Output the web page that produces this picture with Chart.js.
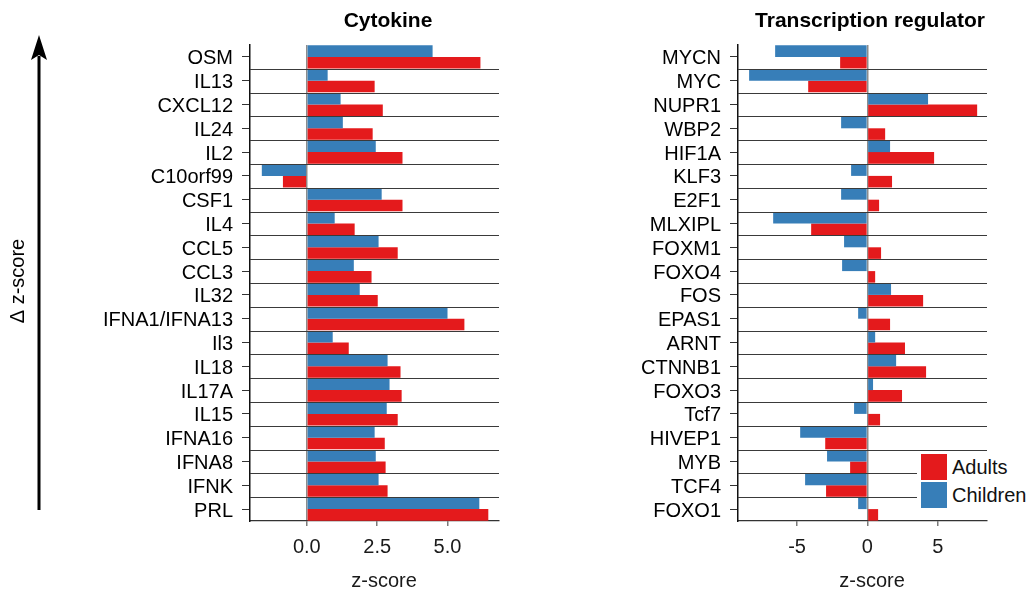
<!DOCTYPE html>
<html>
<head>
<meta charset="utf-8">
<script src="https://cdn.jsdelivr.net/npm/chart.js@4.4.1/dist/chart.umd.min.js"></script>
<style>
    html, body { margin: 0; padding: 0; background: #fff; }
    #wrap { position: relative; width: 1035px; height: 594px; overflow: hidden; }
    canvas { position: absolute; top: 0; }
    #cyto { left: 0; }
    #tf { left: 520px; }
    .legend {
        position: absolute; left: 917px; top: 451px; width: 118px; height: 60px;
        background: #fff; font: 20px "Liberation Sans", Arial, sans-serif; color: #111;
    }
    .legend div { position: absolute; left: 4px; height: 26px; line-height: 26px; padding-left: 31px; }
    .legend span { position: absolute; left: 0; top: 0; width: 26px; height: 26px; }
</style>
</head>
<body>
<div id="wrap">
    <canvas id="cyto" width="520" height="594"></canvas>
    <canvas id="tf" width="515" height="594"></canvas>
    <div class="legend">
        <div style="top:3px"><span style="background:#E41A1C"></span>Adults</div>
        <div style="top:31px"><span style="background:#377EB8"></span>Children</div>
    </div>
</div>
<script>
const cytoLabels = ["OSM", "IL13", "CXCL12", "IL24", "IL2", "C10orf99", "CSF1", "IL4", "CCL5", "CCL3",
    "IL32", "IFNA1/IFNA13", "Il3", "IL18", "IL17A", "IL15", "IFNA16", "IFNA8", "IFNK", "PRL"];
const cytoChildren = [4.47, 0.74, 1.2, 1.28, 2.45, -1.6, 2.66, 0.99, 2.55, 1.67,
    1.88, 5.0, 0.92, 2.87, 2.94, 2.84, 2.41, 2.45, 2.55, 6.13];
const cytoAdults = [6.17, 2.41, 2.7, 2.34, 3.4, -0.85, 3.4, 1.7, 3.23, 2.3,
    2.52, 5.6, 1.49, 3.33, 3.37, 3.23, 2.77, 2.8, 2.87, 6.45];
const cytoTicks = [0, 2.5, 5];

const tfLabels = ["MYCN", "MYC", "NUPR1", "WBP2", "HIF1A", "KLF3", "E2F1", "MLXIPL", "FOXM1", "FOXO4",
    "FOS", "EPAS1", "ARNT", "CTNNB1", "FOXO3", "Tcf7", "HIVEP1", "MYB", "TCF4", "FOXO1"];
const tfChildren = [-6.56, -8.41, 4.31, -1.87, 1.61, -1.16, -1.87, -6.7, -1.66, -1.8,
    1.68, -0.66, 0.55, 2.04, 0.4, -0.95, -4.78, -2.87, -4.43, -0.66];
const tfAdults = [-1.94, -4.21, 7.8, 1.26, 4.74, 1.75, 0.83, -4.0, 0.97, 0.55,
    3.96, 1.61, 2.67, 4.17, 2.46, 0.9, -3.0, -1.23, -2.94, 0.76];
const tfTicks = [-5, 0, 5];

const RED = "#E41A1C";
const BLUE = "#377EB8";
const FONT = '"Liberation Sans", Arial, sans-serif';

Chart.defaults.font.family = FONT;
Chart.defaults.color = "#111";

// lines between the categories
const rowLines = {
    id: "rowLines",
    afterDatasetsDraw(chart) {
        const y = chart.scales.y;
        const area = chart.chartArea;
        const ctx = chart.ctx;
        ctx.save();
        ctx.strokeStyle = "#3a3a3a";
        ctx.lineWidth = 1;
        for (let i = 0; i < y.ticks.length - 1; i++) {
            const py = Math.round((y.getPixelForTick(i) + y.getPixelForTick(i + 1)) / 2) + 0.5;
            ctx.beginPath();
            ctx.moveTo(area.left, py);
            ctx.lineTo(area.right, py);
            ctx.stroke();
        }
        ctx.restore();
    }
};

// panel title and x label
const panelText = {
    id: "panelText",
    afterDraw(chart, args, opts) {
        const ctx = chart.ctx;
        ctx.save();
        ctx.fillStyle = "#000";
        ctx.textAlign = "center";
        ctx.textBaseline = "alphabetic";
        ctx.font = "bold 21px " + FONT;
        ctx.fillText(opts.title, opts.titleX, 27);
        ctx.fillStyle = "#1a1a1a";
        ctx.font = "20px " + FONT;
        ctx.fillText("z-score", opts.labelX, 587);
        if (opts.arrow) {
            ctx.strokeStyle = "#000";
            ctx.fillStyle = "#000";
            ctx.lineWidth = 3;
            ctx.beginPath();
            ctx.moveTo(39, 510);
            ctx.lineTo(39, 56);
            ctx.stroke();
            ctx.beginPath();
            ctx.moveTo(39, 35);
            ctx.lineTo(31, 60);
            ctx.lineTo(39, 55);
            ctx.lineTo(47, 60);
            ctx.closePath();
            ctx.fill();
            ctx.translate(18, 281);
            ctx.rotate(-Math.PI / 2);
            ctx.textBaseline = "middle";
            ctx.fillText("\u0394 z-score", 0, 0);
        }
        ctx.restore();
    }
};

function makeChart(id, labels, children, adults, xMin, xMax, tickValues, tickFormat, yWidth, padRight, text) {
    return new Chart(document.getElementById(id), {
        type: "bar",
        data: {
            labels: labels,
            datasets: [
                { label: "Children", data: children, backgroundColor: BLUE },
                { label: "Adults", data: adults, backgroundColor: RED }
            ]
        },
        options: {
            indexAxis: "y",
            responsive: false,
            animation: false,
            devicePixelRatio: 1,
            categoryPercentage: 0.97,
            barPercentage: 1,
            borderWidth: 0,
            layout: { padding: { top: 45, right: padRight, bottom: 0, left: 0 } },
            plugins: {
                legend: { display: false },
                tooltip: { enabled: false },
                panelText: text
            },
            scales: {
                x: {
                    type: "linear",
                    min: xMin,
                    max: xMax,
                    afterBuildTicks(scale) {
                        scale.ticks = tickValues.map(v => ({ value: v }));
                    },
                    afterFit(scale) {
                        scale.height = 73;
                    },
                    ticks: {
                        autoSkip: false,
                        padding: 9,
                        color: "#1a1a1a",
                        font: { size: 20 },
                        callback: v => tickFormat(v)
                    },
                    grid: {
                        color: ctx => (ctx.tick && ctx.tick.value === 0 ? "#8c8c8c" : "rgba(0,0,0,0)"),
                        lineWidth: 1.5,
                        tickColor: "#7a7a7a",
                        tickLength: 5
                    },
                    border: { display: true, color: "#333", width: 1.3 }
                },
                y: {
                    afterFit(scale) {
                        scale.width = yWidth;
                    },
                    ticks: {
                        autoSkip: false,
                        padding: 9,
                        labelOffset: 2,
                        color: "#000",
                        font: { size: 20 }
                    },
                    grid: {
                        offset: false,
                        drawOnChartArea: false,
                        tickColor: "#333",
                        tickLength: 8
                    },
                    border: { display: true, color: "#111", width: 1.5 }
                }
            }
        },
        plugins: [rowLines, panelText]
    });
}

makeChart("cyto", cytoLabels, cytoChildren, cytoAdults, -2.02, 6.83, cytoTicks,
    v => v.toFixed(1), 250, 21, { title: "Cytokine", titleX: 388, labelX: 384, arrow: true });

makeChart("tf", tfLabels, tfChildren, tfAdults, -9.2, 8.5, tfTicks,
    v => String(v), 218, 48, { title: "Transcription regulator", titleX: 350, labelX: 352, arrow: false });
</script>
</body>
</html>
